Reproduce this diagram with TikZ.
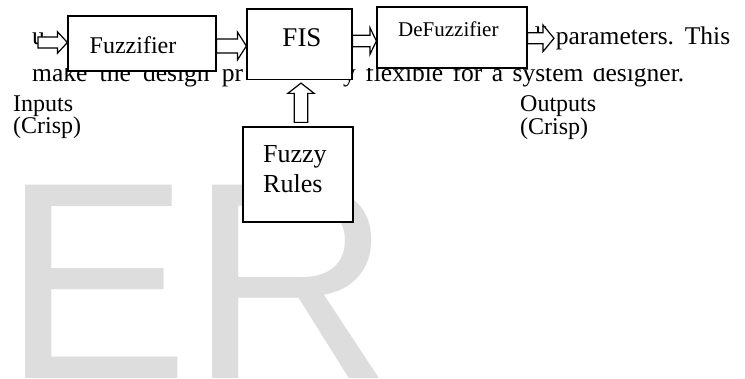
\documentclass[tikz,border=0pt]{standalone}
\usepackage{fontspec}
\setmainfont{Liberation Serif}
\newfontfamily\wmfont{Liberation Sans}
\usetikzlibrary{calc}
\definecolor{wmgray}{RGB}{221,221,221}
\tikzset{
  box/.style={draw=black, line width=1.2pt, fill=white, inner sep=0pt},
  blockarrow/.style={draw=black, line width=1.2pt, fill=white, line join=miter},
  body/.style={font=\fontsize{25.5}{25.5}\selectfont, inner sep=0pt, anchor=base west},
  lbl/.style={font=\fontsize{24}{24}\selectfont, inner sep=0pt, anchor=base west},
}
% horizontal block arrow: #1 start point, #2 tip point, #3 centre y, #4 shaft half, #5 head half, #6 head length
\newcommand{\HArrow}[6]{%
  \draw[blockarrow] let \p1=(#1), \p2=(#2), \p3=(0,#3) in
    (\x1,\y3+#4) -- (\x2-#6,\y3+#4) -- (\x2-#6,\y3+#5) -- (\x2,\y3)
    -- (\x2-#6,\y3-#5) -- (\x2-#6,\y3-#4) -- (\x1,\y3-#4) -- cycle;}
\begin{document}
\begin{tikzpicture}[x=1pt,y=-1pt]
\clip (0,0) rectangle (745,379);
\fill[white] (0,0) rectangle (745,379);
% watermark
\node[inner sep=0pt, anchor=base west, text=wmgray] (wm) at (2,379) {\wmfont\fontsize{281}{281}\selectfont ER};
% background text fragments
\node[body] (t1a) at (32,45) {u};
\node[body] (t1b) at (523,45) {\makebox[207pt][s]{all parameters. This}};
\node[body] (t2a) at (32,82) {\makebox[211pt][s]{make the design pr}};
\node[body] (t2b) at (343,82) {\makebox[341pt][s]{y flexible for a system designer.}};
\fill[white] (28,58) rectangle (700,68.5);
% boxes
\node[box, minimum width=148pt, minimum height=55pt] (fuz) at (142,43.5) {};
\node[box, minimum width=105pt, minimum height=70.5pt] (fis) at (299.5,44.25) {};
\node[box, minimum width=150pt, minimum height=61pt] (def) at (452,37.5) {};
\node[box, minimum width=110pt, minimum height=95pt] (rules) at (298,174.5) {};
% box texts
\node[inner sep=0pt, anchor=base, font=\fontsize{24}{24}\selectfont] (fuzt) at (133,53.5) {Fuzzifier};
\node[inner sep=0pt, anchor=base, font=\fontsize{27}{27}\selectfont] (fist) at (302,46.5) {FIS};
\node[inner sep=0pt, anchor=base west, font=\fontsize{21}{21}\selectfont] (deft) at (398,37) {DeFuzzifier};
\node[inner sep=0pt, anchor=base west, font=\fontsize{26}{26}\selectfont] (rt1) at (263,163) {Fuzzy};
\node[inner sep=0pt, anchor=base west, font=\fontsize{26}{26}\selectfont] (rt2) at (263,193) {Rules};
% labels
\node[lbl] (in1) at (13,111.5) {Inputs};
\node[lbl] (in2) at (13,134) {(Crisp)};
\node[lbl] (out1) at (520,111.5) {Outputs};
\node[lbl] (out2) at (520,135) {(Crisp)};
% arrows
\coordinate (inS) at (38,42.5);
\coordinate (outT) at (554,38);
\HArrow{inS}{fuz.west}{42.5}{5.5pt}{10.8pt}{10pt}
\HArrow{fuz.east}{fis.west}{46}{7pt}{14pt}{9pt}
\HArrow{fis.east}{def.west}{41}{5.8pt}{13.5pt}{6.5pt}
\HArrow{def.east}{outT}{38.3}{5.5pt}{13.3pt}{11pt}
\draw[blockarrow] let \p1=(rules.north), \p2=(fis.south) in
  (\x1+3pt-6.7pt,\y1+4pt) -- (\x1+3pt-6.7pt,\y2-13.3pt) -- (\x1+3pt-13.2pt,\y2-13.3pt)
  -- (\x1+3pt,\y2-3pt) -- (\x1+3pt+13.2pt,\y2-13.3pt) -- (\x1+3pt+6.7pt,\y2-13.3pt)
  -- (\x1+3pt+6.7pt,\y1+4pt) -- cycle;
\end{tikzpicture}
\end{document}
